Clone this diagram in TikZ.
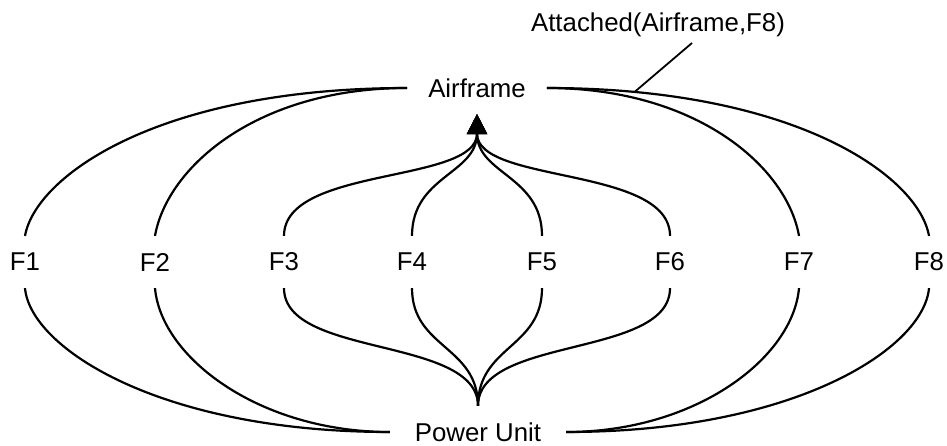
\documentclass[tikz,border=0pt]{standalone}
\usepackage{fontspec}
\setmainfont{Liberation Sans}
\usetikzlibrary{arrows.meta}

\begin{document}
\begin{tikzpicture}[x=0.5pt, y=0.5pt, line width=1.1pt,
  every node/.style={font=\fontsize{12.9}{15}\selectfont},
  part/.style={minimum height=25pt, inner ysep=0pt},
  fnode/.style={minimum height=25pt, inner sep=0pt},
  tip/.style={-{Triangle[length=10pt, width=10pt]}}]
  \useasboundingbox (0, 0) rectangle (947, 445);

  \node[part, inner xsep=10pt] (air) at (477, 357) {Airframe};
  \node[part, inner xsep=12pt] (pu)  at (478, 13)  {Power Unit};

  \node[fnode] (F1) at (25, 183)  {F1};
  \node[fnode] (F2) at (155, 183) {F2};
  \node[fnode] (F3) at (284, 183) {F3};
  \node[fnode] (F4) at (412, 183) {F4};
  \node[fnode] (F5) at (542, 183) {F5};
  \node[fnode] (F6) at (670, 183) {F6};
  \node[fnode] (F7) at (799, 183) {F7};
  \node[fnode] (F8) at (929, 183) {F8};

  \node[anchor=base] (att) at (658, 413) {Attached(Airframe,F8)};

  % outer loops
  \draw (F1.north) .. controls +(80:60)  and +(180:250) .. (air.west);
  \draw (F2.north) .. controls +(80:70)  and +(180:150) .. (air.west);
  \draw (F7.north) .. controls +(100:70) and +(0:150)   .. (air.east);
  \draw (F8.north) .. controls +(100:60) and +(0:250)   .. (air.east)
    coordinate[pos=0.875] (a8);
  \draw (F1.south) .. controls +(-85:60) and +(180:230) .. (pu.west);
  \draw (F2.south) .. controls +(-85:70) and +(180:130) .. (pu.west);
  \draw (F7.south) .. controls +(-95:70) and +(0:130)   .. (pu.east);
  \draw (F8.south) .. controls +(-95:60) and +(0:230)   .. (pu.east);

  % inner loops
  \draw[tip] (F3.north) .. controls +(90:70) and +(-90:70) .. (air.south);
  \draw[tip] (F4.north) .. controls +(90:60) and +(-90:60) .. (air.south);
  \draw[tip] (F5.north) .. controls +(90:60) and +(-90:60) .. (air.south);
  \draw[tip] (F6.north) .. controls +(90:70) and +(-90:70) .. (air.south);
  \draw (F3.south) .. controls +(-90:70) and +(90:70) .. (pu.north);
  \draw (F4.south) .. controls +(-90:60) and +(90:60) .. (pu.north);
  \draw (F5.south) .. controls +(-90:60) and +(90:60) .. (pu.north);
  \draw (F6.south) .. controls +(-90:70) and +(90:70) .. (pu.north);

  \draw[line width=0.9pt] (a8) -- ([shift={(34,-11)}]att.base);
\end{tikzpicture}
\end{document}
